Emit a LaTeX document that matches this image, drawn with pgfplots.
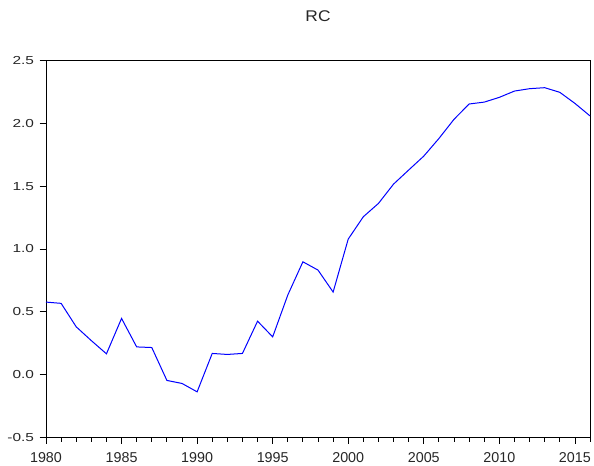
\documentclass[border=0pt]{standalone}
\usepackage{pgfplots}
\pgfplotsset{compat=1.18}
\usepackage{fontspec}
\setmainfont{Liberation Sans}
\newfontfamily\ylabfont{Liberation Sans}[FakeStretch=1.33]
\newfontfamily\titfont{Liberation Sans}[FakeStretch=1.12]
\begin{document}
\begin{tikzpicture}[x=1bp,y=1bp]
\useasboundingbox (0,0) rectangle (594,466);
\begin{axis}[
  at={(46bp,28.7bp)}, anchor=south west,
  scale only axis, width=544bp, height=376.6bp,
  xmin=1980, xmax=2016, ymin=-0.5, ymax=2.5,
  axis line style={black, line width=0.9bp},
  xtick={1980,1985,...,2015},
  xticklabels={1980,1985,1990,1995,2000,2005,2010,2015},
  minor xtick={1981,1982,1983,1984,1986,1987,1988,1989,1991,1992,1993,1994,1996,1997,1998,1999,2001,2002,2003,2004,2006,2007,2008,2009,2011,2012,2013,2014,2016},
  ytick={-0.5,0,0.5,1,1.5,2,2.5},
  yticklabels={-0.5,0.0,0.5,1.0,1.5,2.0,2.5},
  tick align=outside,
  xtick pos=bottom, ytick pos=left,
  major tick length=6.5bp, minor tick length=4.5bp,
  tick style={black, line width=0.8bp},
  xticklabel style={font=\fontsize{14.3bp}{16bp}\selectfont, text=black!85, yshift=-5bp},
  yticklabel style={font=\ylabfont\fontsize{11.6bp}{13bp}\selectfont, text=black!85, xshift=-2bp},
  title={RC}, title style={font=\titfont\fontsize{15.5bp}{17bp}\selectfont, text=black!85, at={(0.5,1)}, anchor=south, yshift=30bp},
  clip=false,
]
\addplot[blue, line width=1bp, mark=none] coordinates {
(1980,0.577) (1981,0.567) (1982,0.38) (1983,0.27) (1984,0.165)
(1985,0.447) (1986,0.22) (1987,0.215) (1988,-0.047) (1989,-0.071)
(1990,-0.138) (1991,0.168) (1992,0.16) (1993,0.168) (1994,0.425)
(1995,0.30) (1996,0.633) (1997,0.898) (1998,0.832) (1999,0.657)
(2000,1.079) (2001,1.257) (2002,1.363) (2003,1.517) (2004,1.629)
(2005,1.74) (2006,1.88) (2007,2.033) (2008,2.155) (2009,2.17)
(2010,2.208) (2011,2.258) (2012,2.277) (2013,2.285) (2014,2.248)
(2015,2.16) (2016,2.06)
};
\end{axis}
\end{tikzpicture}
\end{document}
